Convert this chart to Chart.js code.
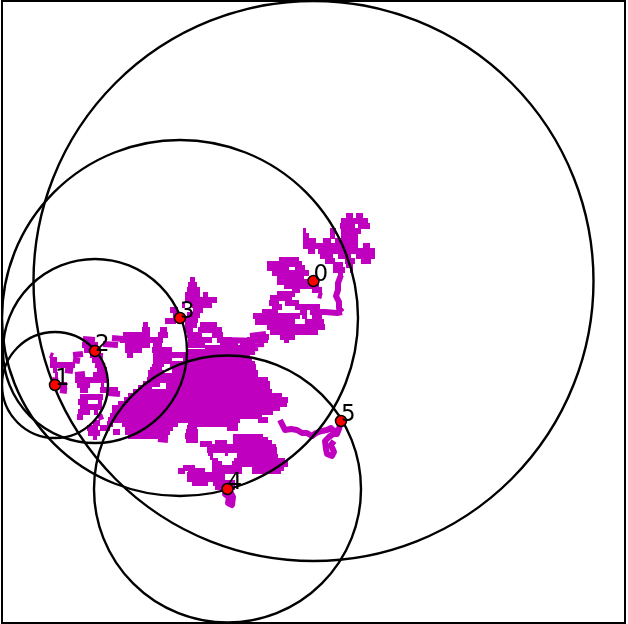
<!DOCTYPE html>
<html>
<head>
<meta charset="utf-8">
<style>
  html, body { margin: 0; padding: 0; background: #fff; }
  #wrap { width: 628px; height: 624px; }
</style>
<script src="https://cdn.jsdelivr.net/npm/chart.js@4"></script>
</head>
<body>
<div id="wrap"><canvas id="chart"></canvas></div>
<script>
// node values (axis units = picture pixels)
const nodeLabels = ["0", "1", "2", "3", "4", "5"];
const nodeX = [313.5, 55, 95, 180, 227.5, 341];
const nodeY = [281, 385, 351, 318, 489, 421];
const nodeRadius = [280, 53, 92, 178, 133.5, 0];

// traced walk, null = lift the pen
const walkLeft = [
    [83,339],[95,340],null,[112,338],[123,339],null,
    [82,345],[98,345],null,[103,344],[118,345],null,
    [84,350],[100,350],null,
    [50,355],[53,356],null,[73,355],[83,354],null,[90,355],[103,356],null,
    [50,360],[57,360],null,[73,360],[80,361],null,[92,360],[102,360],null,
    [50,365],[75,365],null,[95,365],[105,366],null,
    [53,370],[57,370],null,[65,370],[73,371],null,[97,370],[107,370],null,
    [55,375],[58,375],null,[75,375],[85,374],null,[93,375],[107,375],null,
    [52,380],[58,381],null,[75,380],[107,380],null,
    [55,385],[67,385],null,[77,385],[90,385],null,[101,385],[104,385],null,
    [60,390],[67,391],null,[80,390],[88,390],null,[100,390],[118,390],null,
    [108,393],[120,394],null,
    [80,397],[103,397],null,
    [78,402],[88,402],null,[98,402],[102,402],null,
    [80,407],[102,407],null,
    [78,412],[90,412],null,[94,412],[98,412],null,
    [77,417],[83,417],null,[98,418],[103,416],null,
    [93,423],[100,423],null,
    [87,428],[98,428],null,
    [88,433],[100,433],null,
    [93,437],[97,437]
];
const walkToThree = [
    [143,325],[148,325],null,
    [142,330],[150,330],null,[160,330],[167,330],null,
    [123,335],[150,335],null,[158,335],[168,335],null,
    [120,340],[153,340],[153,340],[163,340],null,
    [125,345],[150,345],null,[153,345],[162,345],null,
    [125,350],[142,350],null,[152,350],[172,350],null,
    [127,355],[133,355],null
];
const walkAboveThree = [
    [190,280],[195,280],null,
    [188,285],[197,285],null,
    [187,290],[200,290],null,
    [185,295],[200,295],null,[203,295],[208,295],null,
    [185,300],[217,300],null,
    [182,305],[185,305],null,[192,305],[212,305],null,
    [170,310],[178,310],null,[193,310],[203,310],null,
    [173,315],[180,315],null,[187,315],[200,315],null,
    [165,321],[176,321],null,[185,320],[198,320],null,
    [185,325],[197,325],null,[200,325],[217,325],null,
    [185,330],[193,330],null,[198,330],[222,330],null,
    [187,335],[202,335],null,[212,335],[223,335],null,
    [188,340],[212,340],null,[217,340],[232,340],null,
    [188,345],[205,345],null,[220,345],[235,345],null
];
const walkCore = [
    [250,336],[266,334],null,
    [222,340],[262,341],null,
    [225,344],[238,344],null,[244,345],[264,344],null,
    [205,348],[242,348],[248,349],[258,348],null,
    [188,352],[255,352],null,
    [153,355],[182,355],[186,355],[246,355],null,
    [154,358],[168,358],null,[184,358],[250,358],null,
    [153,361],[172,361],null,[183,361],[252,361],null,
    [153,364],[164,364],null,[170,364],[255,364],null,
    [152,367],[162,367],null,[172,367],[256,367],null,
    [150,370],[158,370],null,[172,370],[256,370],null,
    [148,373],[164,373],null,[174,373],[258,373],null,
    [148,376],[170,376],[176,376],[258,376],null,
    [147,380],[268,380],null,
    [143,384],[160,384],null,[166,384],[270,384],null,
    [138,388],[152,388],null,[166,388],[270,388],null,
    [133,392],[272,392],null,
    [128,396],[282,396],null,
    [124,400],[288,400],null,
    [118,404],[287,404],null,
    [112,408],[280,408],null,
    [112,412],[273,412],null,
    [110,416],[262,416],null,
    [108,420],[240,420],null,[258,420],[268,420],null,
    [107,424],[113,424],null,[122,424],[178,424],null,[188,424],[238,424],null,
    [100,428],[110,428],null,[125,428],[173,428],null,[187,428],[197,428],null,[227,428],[238,428],null,
    [113,432],[120,432],null,[125,432],[170,432],null,[186,432],[198,432],null,
    [128,436],[168,436],null,
    [158,439],[168,440]
];
const walkLower = [
    [185,436],[198,436],null,[233,437],[263,437],null,
    [186,440],[198,440],null,[243,440],[268,440],null,
    [200,444],[212,444],null,[215,443],[227,443],null,[233,443],[272,443],null,
    [207,447],[276,447],null,
    [207,450],[277,450],null,
    [208,453],[213,453],null,[225,453],[228,453],null,[237,453],[277,453],null,
    [210,457],[213,457],null,[237,457],[278,457],null,
    [212,461],[218,461],null,[234,461],[285,461],null,
    [212,464],[222,464],null,[232,464],[288,464],null,
    [183,468],[195,468],null,[212,468],[242,468],null,[252,468],[284,468],null,
    [178,471],[185,471],null,[188,471],[205,471],null,[212,471],[242,471],null,[252,471],[281,471],null,
    [187,475],[225,475],null,
    [187,479],[225,479],null,
    [192,483],[208,483],null,[213,483],[235,483],null,
    [215,487],[235,487],null,
    [227,489],[225,494],[229,497],[228,503],[232,505],[233,497],[230,491]
];
const walkFive = [
    [280,420],[283,426],[285,430],[291,429],[297,430],[302,433],[307,433],[312,436],[316,433],[322,431],[327,430],
    [331,428],[335,432],[339,429],[341,421],null,
    [339,429],[337,434],[333,434],[329,437],[325,441],[326,449],[327,454],[332,456],[334,452],[331,445],[334,441]
];
const walkMiddle = [
    [272,307],[282,307],null,[295,307],[320,307],null,
    [262,312],[278,312],null,[300,312],[307,312],null,[310,312],[325,312],[337,313],[342,312],null,
    [253,316],[300,316],null,[302,316],[307,316],null,[312,316],[322,316],null,
    [255,322],[295,322],null,[305,322],[324,322],null,
    [267,327],[325,327],null,
    [270,332],[318,332],null,
    [258,337],[269,337],null,[280,337],[295,337],null,
    [247,340],[268,340],null,[284,340],[289,340],null,
    [240,343],[255,343],null,
    [243,347],[250,347]
];
const walkNearZero = [
    [279,260],[299,260],null,
    [267,264],[302,264],null,
    [267,268],[289,268],null,[295,268],[305,268],null,
    [272,273],[309,273],null,
    [277,277],[304,277],null,
    [277,282],[309,282],[313,281],[318,283],null,
    [284,286],[319,286],null,
    [292,290],[300,290],null,[312,290],[322,290],null,
    [277,294],[295,294],null,[318,295],[322,296],null,
    [270,298],[292,298],null,
    [269,303],[279,303],null,[285,303],[299,303]
];
const walkUpper = [
    [346,216],[353,216],null,[356,216],[363,216],null,
    [341,221],[368,221],null,
    [340,226],[355,226],null,[358,226],[370,226],null,
    [303,231],[306,231],null,[330,231],[336,231],null,[341,231],[361,231],null,
    [303,236],[309,236],null,[330,236],[335,236],null,[341,236],[358,236],null,
    [303,241],[316,241],null,[323,241],[331,241],null,[335,241],[358,241],null,
    [303,246],[358,246],null,[363,246],[370,246],null,
    [308,251],[315,251],null,[318,251],[375,251],null,
    [320,256],[333,256],null,[338,256],[351,256],null,[356,256],[375,256],null,
    [325,261],[335,261],null,[345,261],[355,261],null,[361,261],[371,261],null,
    [333,265],[343,265],null,[346,265],[353,265],null,
    [333,270],[345,270],null,[350,270],[353,270],null,
    [338,274],[343,274],null,
    [341,275],[338,283],[338,290],[336,296],[339,302],[339,308],[342,312]
];

const allWalks = [walkLeft, walkToThree, walkAboveThree, walkCore, walkLower, walkFive, walkMiddle, walkNearZero, walkUpper];

const toPoints = walk => walk.map(p => p ? { x: p[0], y: p[1] } : { x: null, y: null });

const walkSets = allWalks.map(walk => ({
    type: "scatter",
    data: toPoints(walk),
    showLine: true,
    borderColor: "#bf00bf",
    borderWidth: 6,
    borderCapStyle: "butt",
    borderJoinStyle: "round",
    spanGaps: false,
    pointRadius: 0,
    order: 3
}));

// radius comes in axis units, the point wants pixels
const circleSet = {
    data: nodeX.map((x, i) => ({ x: x, y: nodeY[i], r: nodeRadius[i] })),
    showLine: false,
    backgroundColor: "transparent",
    borderColor: "#000",
    borderWidth: 2.4,
    pointRadius: ctx => {
        const xs = ctx.chart.scales.x;
        return Math.abs(xs.getPixelForValue(ctx.raw.r) - xs.getPixelForValue(0));
    },
    order: 2
};

const nodeSet = {
    data: nodeX.map((x, i) => ({ x: x, y: nodeY[i] })),
    showLine: false,
    backgroundColor: "#ff0000",
    borderColor: "#000",
    borderWidth: 1.5,
    pointRadius: 5.5,
    order: 1
};

const framePlugin = {
    id: "frame",
    afterDatasetsDraw(chart) {
        const { ctx, chartArea: a, scales } = chart;
        ctx.save();
        // node names
        ctx.fillStyle = "#000";
        ctx.font = "23px 'DejaVu Sans'";
        ctx.textAlign = "left";
        ctx.textBaseline = "alphabetic";
        nodeLabels.forEach((t, i) => {
            ctx.fillText(t, scales.x.getPixelForValue(nodeX[i]), scales.y.getPixelForValue(nodeY[i]));
        });
        ctx.strokeStyle = "#000";
        ctx.lineWidth = 2;
        ctx.strokeRect(a.left, a.top, a.right - a.left, a.bottom - a.top);
        ctx.restore();
    }
};

new Chart(document.getElementById("chart"), {
    type: "scatter",
    data: { datasets: [nodeSet, circleSet, ...walkSets] },
    options: {
        responsive: true,
        maintainAspectRatio: false,
        animation: false,
        events: [],
        layout: { autoPadding: false, padding: { left: 2, top: 1, right: 3, bottom: 1 } },
        plugins: { legend: { display: false }, tooltip: { enabled: false } },
        scales: {
            x: { display: false, min: 2, max: 625 },
            y: { display: false, min: 1, max: 623, reverse: true }
        }
    },
    plugins: [framePlugin]
});
</script>
</body>
</html>
